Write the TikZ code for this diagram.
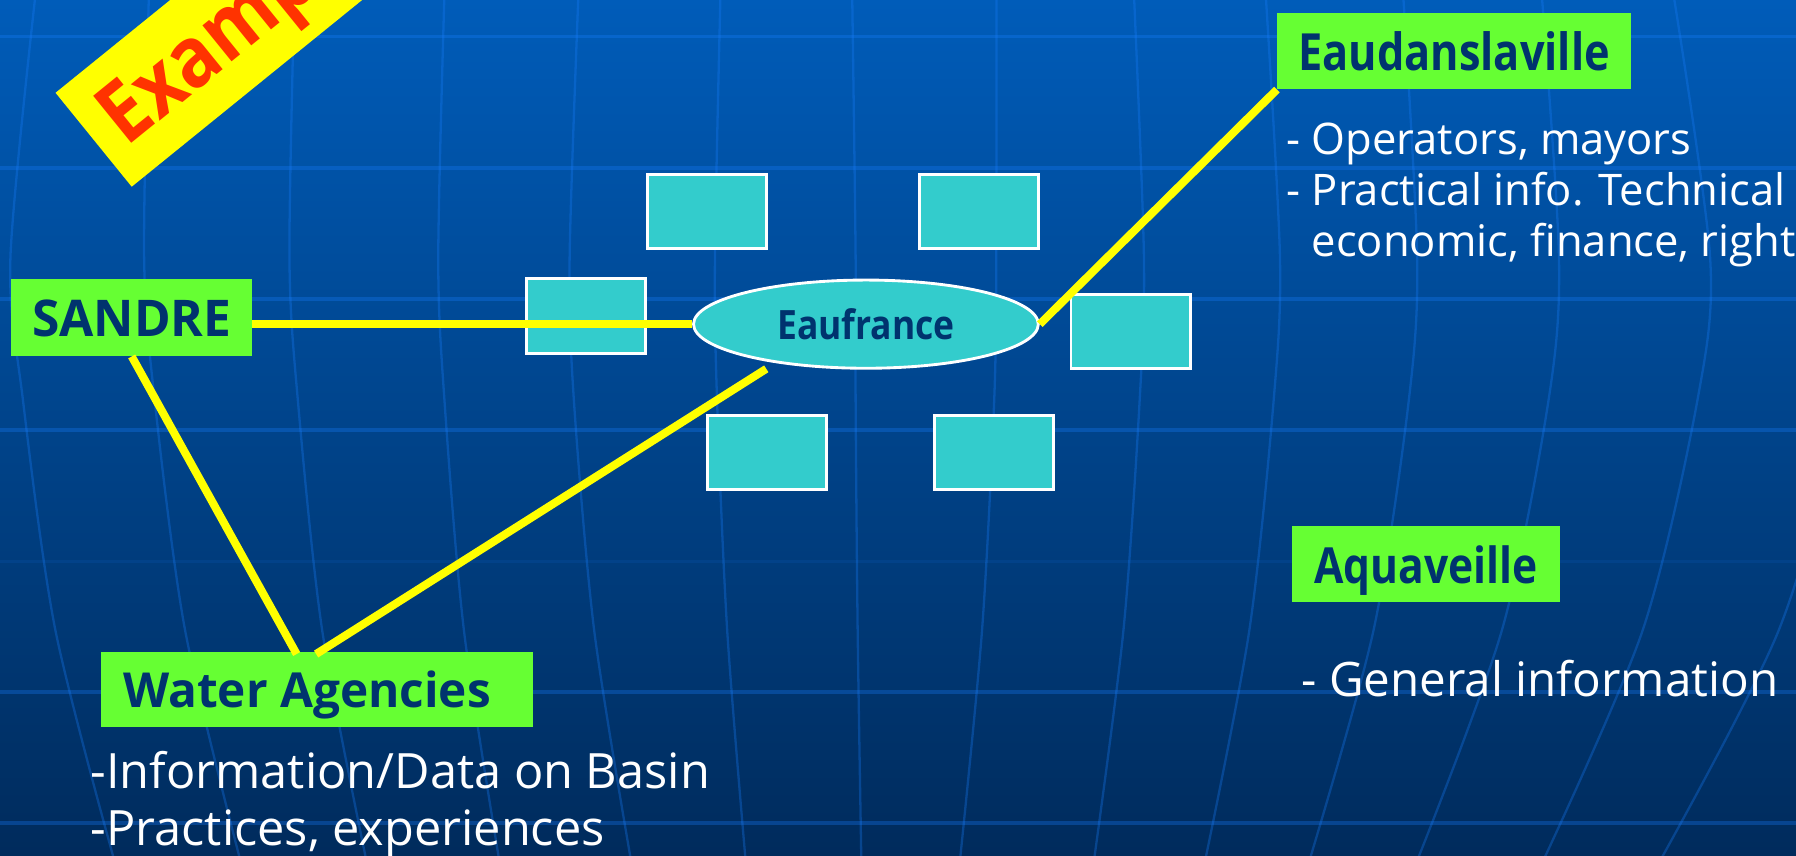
\documentclass[tikz,border=0pt]{standalone}
\usepackage{fontspec}
\setmainfont{Open Sans}
\usepackage{graphicx}
\usetikzlibrary{shapes.geometric}
\definecolor{bgtop}{HTML}{005CB9}
\definecolor{bgbot}{HTML}{002B5C}
\definecolor{gridc}{HTML}{1A7FFF}
\definecolor{greenc}{HTML}{66FF33}
\definecolor{tealc}{HTML}{33CCCC}
\definecolor{navy}{HTML}{00336E}
\definecolor{redtxt}{HTML}{FF3300}
\definecolor{yel}{HTML}{FFFF00}
\begin{document}
\begin{tikzpicture}[x=1pt,y=-1pt,
  greenlbl/.style={rectangle, fill=greenc, inner sep=0pt, text=navy, text depth=0pt,
    font=\bfseries\fontsize{40}{48}\selectfont},
  tealrect/.style={rectangle, fill=tealc, draw=white, line width=2.5pt, inner sep=0pt,
    minimum width=104pt, minimum height=65pt},
  yline/.style={draw=yel, line width=7pt},
  whitetxt/.style={text=white, inner sep=0pt, anchor=base west},
  hline/.style={draw=gridc, draw opacity=0.3, line width=3pt},
  meridian/.style={draw=gridc, draw opacity=0.3, line width=2pt}]
\useasboundingbox (0,0) rectangle (1568,747);
\clip (0,0) rectangle (1568,747);
\shade[top color=bgtop, bottom color=bgbot] (0,0) rectangle (1568,747);
% globe grid
\foreach \a/\m/\b in {31/20/100, 130/135/210, 257/260/320, 388/388/436, 505/501/551,
  629/626/651, 744/747/752, 870/868/838, 990/995/955, 1105/1112/1052, 1225/1230/1143,
  1346/1352/1237, 1461/1482/1347, 1590/1610/1449} {
  \pgfmathsetmacro\e{\m+0.015*(\m-747)}
  \pgfmathsetmacro\f{\m+0.354*(\b-\m)}
  \draw[meridian] plot[smooth] coordinates {(\a,-5) (\e,225) (\m,349) (\f,550) (\b,752)};
}
\foreach \y in {32,146.5,261,375.5,604,718.5} \draw[hline] (0,\y) -- (1568,\y);
\draw[hline, draw opacity=0.1] (0,490) -- (1568,490);
% Example banner
\fill[yel] (48.5,81) -- (115,163) -- (426,-89) -- (359.3,-170.6) -- cycle;
\node[rotate=39, anchor=base west, inner sep=0pt, text=redtxt,
  font=\bfseries\fontsize{74}{80}\selectfont] (ex) at (110.5,129) {\scalebox{0.88}[1]{Example}};
% teal boxes
\node[tealrect] (t1) at (617,184.5) {};
\node[tealrect] (t2) at (854.5,184.5) {};
\node[tealrect] (t3) at (511.5,276) {};
\node[tealrect] (t4) at (987,289.5) {};
\node[tealrect] (t5) at (669.5,395) {};
\node[tealrect] (t6) at (867.5,395) {};
% centre ellipse
\node[ellipse, fill=tealc, draw=white, line width=2.5pt, minimum width=301pt,
  minimum height=77pt, inner sep=0pt, text=navy, text height=27pt, text depth=0pt,
  font=\bfseries\fontsize{32}{36}\selectfont] (eauf) at (756,283) {\resizebox{155pt}{27pt}{Eaufrance}};
% green labels
\node[greenlbl, minimum width=210pt, minimum height=67pt, text height=32pt] (sandre)
  at (115,277.5) {\resizebox{174pt}{32pt}{SANDRE}};
\node[greenlbl, minimum width=309pt, minimum height=67pt, text height=34pt] (eaud)
  at (1269.5,44.5) {\resizebox{272pt}{34pt}{Eaudanslaville}};
\node[greenlbl, minimum width=377pt, minimum height=66pt, text height=32pt] (wa)
  at (276.5,602) {\resizebox{321pt}{32pt}{Water Agencies}\hspace*{17pt}};
\node[greenlbl, minimum width=234pt, minimum height=67pt, text height=33pt] (aqua)
  at (1245,492.5) {\resizebox{195pt}{33pt}{Aquaveille}};
% connectors
\coordinate (wa1) at (259,571);
\coordinate (wa2) at (276,571);
\coordinate (ef1) at (669,322);
\draw[yline] (eauf.west) -- (eauf.west -| sandre.east);
\draw[yline] (eauf.east) -- (eaud.south west);
\draw[yline] (sandre.south) -- (wa1);
\draw[yline] (wa2) -- (ef1);
% white texts
\node[whitetxt, font=\fontsize{38}{44}\selectfont] (op) at (1123,135) {- Operators, mayors};
\node[whitetxt, font=\fontsize{38}{44}\selectfont] (pr) at (1123,179) {- Practical info. Technical};
\node[whitetxt, font=\fontsize{38}{44}\selectfont] (ec) at (1145,224) {economic, finance, right};
\node[whitetxt, font=\fontsize{41.5}{46}\selectfont] (gi) at (1136,608) {- General information};
\node[whitetxt, font=\fontsize{42.5}{48}\selectfont] (inf) at (79,688) {-Information/Data on Basin};
\node[whitetxt, font=\fontsize{42.5}{48}\selectfont] (pra) at (79,738) {-Practices, experiences};
\end{tikzpicture}
\end{document}
